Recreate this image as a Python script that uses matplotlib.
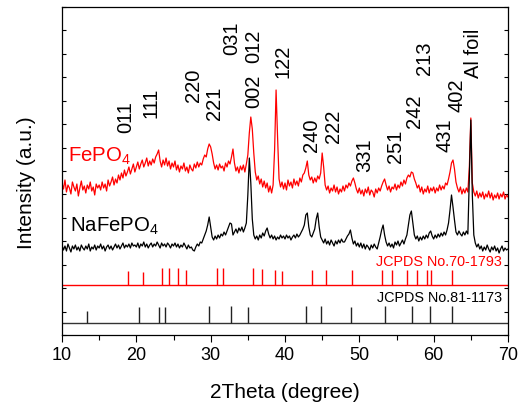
import numpy as np
import matplotlib
matplotlib.use("Agg")
import matplotlib.pyplot as plt
from matplotlib.ticker import MultipleLocator

plt.rcParams['font.family'] = ['Liberation Sans', 'DejaVu Sans']
plt.rcParams['mathtext.fontset'] = 'custom'
plt.rcParams['mathtext.rm'] = 'Liberation Sans'
plt.rcParams['mathtext.it'] = 'Liberation Sans'

# 2theta grid, 0.2 degree step from 10 to 70
two_theta = np.round(np.arange(10.0, 70.0001, 0.2), 1)

# FePO4 pattern (arbitrary intensity units, offset already included)
fepo4 = [
    152, 146, 155, 143, 150, 147, 141, 153, 148, 144, 151, 139, 147, 154, 145, 149, 142, 150, 146, 153, 144, 148, 140, 151, 147,
    150, 145, 153, 147, 151, 144, 155, 149, 153, 158, 150, 156, 152, 160, 155, 162, 157, 165, 159, 163, 168, 161, 166, 171, 163,
    168, 173, 166, 171, 175, 168, 172, 177, 169, 174, 170, 176, 172, 178, 181, 185, 174, 168, 175, 170, 177, 169, 174, 166, 172,
    168, 174, 165, 170, 163, 169, 166, 172, 164, 168, 162, 170, 166, 164, 171, 167, 173, 168, 172, 170, 176, 180, 178, 186, 191,
    188, 181, 172, 166, 170, 165, 171, 167, 169, 164, 172, 168, 174, 171, 178, 186, 172, 164, 168, 162, 169, 165, 170, 163, 171,
    180, 202, 218, 206, 182, 163, 155, 159, 151, 156, 148, 154, 147, 152, 143, 149, 142, 150, 185, 245, 198, 156, 148, 153, 146,
    152, 145, 155, 149, 153, 147, 156, 150, 154, 149, 157, 153, 160, 162, 167, 174, 160, 155, 158, 152, 157, 153, 159, 156, 162,
    182, 168, 150, 145, 149, 142, 147, 144, 150, 143, 148, 141, 146, 143, 149, 144, 150, 147, 152, 149, 154, 157, 152, 146, 142,
    147, 141, 145, 139, 146, 142, 148, 140, 145, 143, 138, 146, 142, 147, 144, 149, 153, 156, 150, 145, 149, 143, 148, 146, 151,
    145, 150, 147, 153, 149, 155, 151, 157, 160, 158, 163, 162, 156, 152, 147, 150, 143, 148, 141, 146, 143, 149, 142, 147, 144,
    148, 142, 147, 144, 150, 145, 149, 146, 152, 150, 156, 163, 172, 175, 166, 153, 147, 143, 148, 141, 146, 142, 147, 143, 168,
    217, 152, 143, 139, 144, 137, 142, 138, 143, 136, 141, 138, 144, 137, 142, 135, 140, 137, 142, 136, 141, 138, 143, 136, 140,
    138,
]

# NaFePO4 pattern
nafepo4 = [
    90, 85, 89, 84, 91, 87, 83, 89, 86, 90, 85, 88, 84, 90, 87, 85, 89, 86, 91, 84, 88, 86, 90, 85, 89,
    87, 91, 86, 89, 84, 88, 90, 86, 89, 85, 88, 91, 87, 90, 86, 89, 92, 87, 90, 88, 91, 87, 92, 89, 90,
    88, 92, 87, 91, 89, 93, 88, 91, 87, 90, 92, 88, 91, 89, 93, 90, 87, 92, 89, 91, 88, 92, 90, 87, 91,
    89, 92, 88, 91, 87, 90, 88, 92, 89, 86, 90, 87, 88, 85, 84, 88, 91, 89, 93, 92, 96, 100, 104, 110, 118,
    108, 98, 95, 99, 96, 100, 97, 101, 99, 103, 100, 104, 108, 112, 111, 100, 103, 106, 102, 107, 104, 108, 103, 107, 112,
    140, 177, 152, 116, 100, 96, 99, 95, 100, 97, 102, 99, 104, 107, 101, 97, 100, 96, 99, 95, 98, 96, 100, 97, 99,
    96, 100, 97, 99, 95, 98, 100, 97, 101, 98, 100, 103, 106, 110, 120, 122, 108, 100, 98, 102, 106, 116, 122, 108, 98,
    95, 92, 96, 91, 94, 90, 95, 92, 89, 94, 91, 95, 92, 96, 93, 93, 96, 99, 101, 105, 97, 91, 94, 89, 92,
    88, 92, 87, 91, 86, 90, 88, 85, 90, 87, 91, 88, 86, 92, 98, 105, 110, 100, 93, 89, 92, 88, 91, 87, 93,
    90, 94, 89, 92, 95, 91, 96, 100, 110, 120, 124, 112, 100, 96, 99, 94, 98, 95, 99, 96, 100, 97, 102, 104, 99,
    96, 100, 97, 101, 98, 102, 99, 103, 100, 105, 112, 125, 140, 128, 115, 103, 100, 104, 101, 99, 103, 100, 104, 101, 160,
    215, 140, 100, 92, 88, 91, 86, 89, 84, 88, 85, 90, 86, 83, 88, 85, 89, 84, 87, 82, 86, 89, 84, 87, 85,
    86,
]

# JCPDS No.70-1793 reference lines (FePO4)
ref_fe_pos = [18.92, 20.86, 23.49, 24.4, 25.6, 26.64, 30.81, 31.7, 35.74, 36.95, 38.66, 39.56,
              43.6, 45.5, 49.06, 53.1, 54.4, 56.4, 57.8, 59.1, 59.7, 62.47]
ref_fe_top = [64, 63, 67, 67, 67, 65, 67, 67, 67, 66, 65, 64,
              65, 65, 65, 65, 65, 65, 65, 65, 65, 65]
ref_fe_base = 50

# JCPDS No.81-1173 reference lines (NaFePO4)
ref_na_pos = [13.3, 20.36, 23.0, 23.86, 29.78, 32.74, 35.0, 42.83, 44.8, 48.84, 53.45, 57.1, 59.47, 62.47]
ref_na_top = [24, 28, 28, 28, 29, 29, 28, 29, 29, 28, 29, 29, 29, 29]
ref_na_base = 12

# peak labels
peak_labels = ["011", "111", "220", "221", "031", "012", "002", "122", "240", "222",
               "331", "251", "242", "213", "431", "402", "Al foil"]
peak_x = [18.6, 21.95, 27.7, 30.55, 32.85, 35.8, 35.8, 39.7, 43.6, 46.55,
          50.75, 54.8, 57.45, 58.8, 61.5, 63.1, 65.4]
peak_y = [202, 217, 233, 215, 280, 272, 227, 257, 183, 192,
          163, 172, 207, 260, 183, 223, 257]

RED = '#ff0000'

fig = plt.figure(figsize=(5.22, 4.13), dpi=100)
ax = fig.add_axes([62/522, 78/413, 446/522, 328/413])

ax.plot(two_theta, fepo4, color=RED, lw=0.9, zorder=2)
ax.plot(two_theta, nafepo4, color='black', lw=0.9, zorder=3)

ax.axhline(ref_fe_base, color=RED, lw=1.0)
ax.axhline(ref_na_base, color='#333333', lw=1.0)
ax.vlines(ref_fe_pos, ref_fe_base, ref_fe_top, color=RED, lw=1.0)
ax.vlines(ref_na_pos, ref_na_base, ref_na_top, color='#222222', lw=1.0)

for lab, x, y in zip(peak_labels, peak_x, peak_y):
    ax.text(x, y, lab, rotation=90, ha='center', va='bottom', fontsize=14.5, color='black')

ax.text(10.8, 173, r"FePO$_\mathrm{4}$", color=RED, fontsize=14.7, ha='left', va='baseline')
ax.text(11.05, 103, r"NaFePO$_\mathrm{4}$", color='black', fontsize=14.7, ha='left', va='baseline')
ax.text(69.2, 69, "JCPDS No.70-1793", color=RED, fontsize=10.4, ha='right', va='baseline')
ax.text(69.2, 33.5, "JCPDS No.81-1173", color='black', fontsize=10.4, ha='right', va='baseline')

ax.set_xlim(10, 70)
ax.set_ylim(0, 328)
ax.xaxis.set_major_locator(MultipleLocator(10))
ax.xaxis.set_minor_locator(MultipleLocator(5))
ax.set_yticks(np.linspace(0, 328, 15))
ax.set_yticklabels([])
ax.tick_params(axis='x', which='major', direction='out', length=5, width=0.8, labelsize=13, pad=4)
ax.tick_params(axis='x', which='minor', direction='out', length=3.5, width=0.8)
ax.tick_params(axis='y', which='major', direction='in', length=3, width=0.8, left=True, right=True)
for s in ax.spines.values():
    s.set_linewidth(0.9)

ax.set_xlabel("2Theta (degree)", fontsize=15, labelpad=13)
ax.set_ylabel("Intensity (a.u.)", fontsize=15)
ax.yaxis.set_label_coords(-0.058, 0.463)

fig.savefig("out.png", dpi=100)
